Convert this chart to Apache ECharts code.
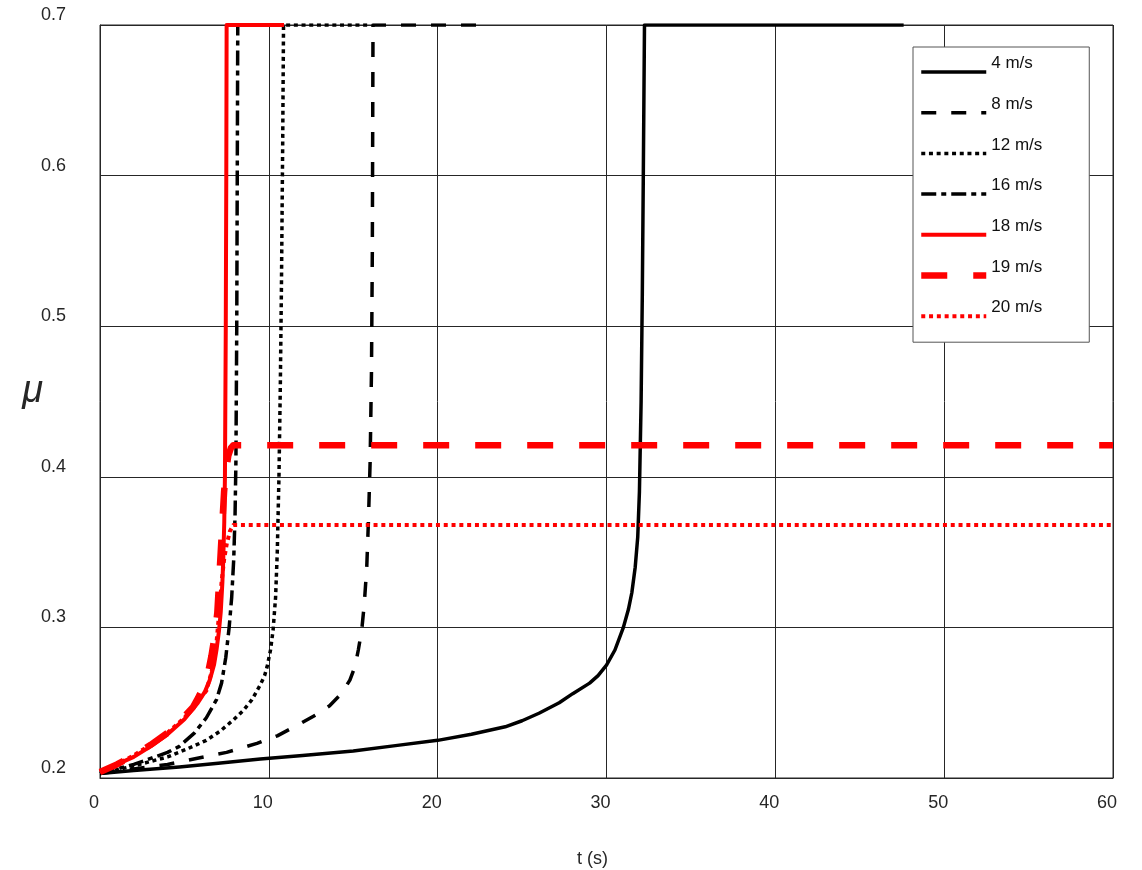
<!DOCTYPE html>
<html>
<head>
<meta charset="utf-8">
<script src="https://cdn.jsdelivr.net/npm/echarts@6/dist/echarts.min.js"></script>
<style>
  html, body { margin: 0; padding: 0; background: #ffffff; overflow: hidden; }
  #chart { width: 1142px; height: 870px; }
</style>
</head>
<body>
<div id="chart"></div>
<script>
// Friction coefficient mu over time for several sliding speeds
const speedLabels = ['4 m/s', '8 m/s', '12 m/s', '16 m/s', '18 m/s', '19 m/s', '20 m/s'];

const mu4 = [[0,0.203],[2,0.205],[4.7,0.2073],[7,0.2098],[9.5,0.2126],[12,0.215],[15,0.218],[17.5,0.2215],[20,0.225],[22,0.229],[24,0.234],[25,0.238],[26,0.243],[27.2,0.25],[28,0.256],[29,0.263],[29.5,0.268],[30,0.275],[30.5,0.285],[31,0.3],[31.3,0.312],[31.5,0.323],[31.7,0.34],[31.85,0.36],[31.95,0.39],[32.05,0.45],[32.12,0.52],[32.18,0.6],[32.25,0.7],[47.6,0.7]];
const mu8 = [[0,0.203],[2,0.206],[4,0.209],[5.7,0.213],[7.5,0.217],[9.3,0.223],[10.5,0.228],[11.85,0.236],[12.8,0.242],[13.6,0.248],[14.3,0.256],[14.8,0.265],[15.1,0.274],[15.3,0.285],[15.5,0.298],[15.65,0.315],[15.8,0.34],[15.9,0.371],[16.0,0.41],[16.08,0.47],[16.13,0.55],[16.17,0.7],[23.1,0.7]];
const mu12 = [[0,0.203],[2,0.208],[4,0.214],[5.1,0.219],[6.3,0.225],[7.1,0.231],[7.9,0.2385],[8.5,0.245],[9.0,0.252],[9.5,0.262],[9.75,0.268],[9.9,0.274],[10.1,0.285],[10.25,0.298],[10.4,0.32],[10.5,0.35],[10.6,0.4],[10.68,0.46],[10.75,0.53],[10.82,0.62],[10.87,0.7],[16,0.7]];
const mu16 = [[0,0.203],[1,0.206],[2,0.209],[3,0.213],[4,0.217],[4.7,0.221],[5.6,0.23],[6.3,0.24],[6.9,0.252],[7.2,0.263],[7.45,0.28],[7.65,0.3],[7.8,0.32],[7.92,0.345],[8.0,0.375],[8.05,0.41],[8.1,0.5],[8.13,0.6],[8.16,0.7],[10.9,0.7]];
const mu18 = [[0,0.204],[1,0.209],[2,0.214],[3,0.221],[4,0.229],[5,0.239],[5.8,0.25],[6.2,0.257],[6.5,0.265],[6.75,0.275],[6.9,0.285],[7.05,0.298],[7.15,0.31],[7.25,0.33],[7.3,0.345],[7.36,0.37],[7.4,0.4],[7.45,0.5],[7.48,0.6],[7.5,0.7],[10.9,0.7]];
const mu19 = [[0,0.204],[1,0.209],[2,0.215],[3,0.222],[4,0.23],[5,0.241],[5.5,0.247],[5.8,0.253],[6.1,0.26],[6.4,0.27],[6.6,0.281],[6.8,0.295],[6.95,0.31],[7.05,0.33],[7.15,0.35],[7.25,0.37],[7.35,0.39],[7.45,0.403],[7.6,0.414],[7.75,0.419],[7.9,0.421],[60,0.421]];
const mu20 = [[0,0.204],[1,0.209],[2,0.215],[3,0.222],[4,0.23],[5,0.24],[5.7,0.25],[6.3,0.258],[6.6,0.27],[6.9,0.29],[7.1,0.315],[7.2,0.33],[7.35,0.345],[7.5,0.355],[7.7,0.364],[7.9,0.368],[60,0.368]];

const xTicks = { min: 0, max: 60, step: 10 };
const yTicks = { min: 0.2, max: 0.7, step: 0.1 };

const INK = '#262626';
const FONT = '"Liberation Sans", Arial, Helvetica, sans-serif';

function curve(name, data, color, width, dash) {
  return {
    name: name,
    type: 'line',
    data: data,
    showSymbol: false,
    symbol: 'none',
    smooth: false,
    animation: false,
    lineStyle: { color: color, width: width, type: dash, cap: 'butt', join: 'round' },
    itemStyle: { color: color }
  };
}

const chart = echarts.init(document.getElementById('chart'), null, { renderer: 'canvas' });

chart.setOption({
  backgroundColor: '#ffffff',
  animation: false,
  grid: {
    left: 100, right: 29, top: 25, bottom: 92,
    outerBoundsMode: 'none',
    containLabel: false,
    show: true, backgroundColor: '#ffffff', borderColor: INK, borderWidth: 1
  },
  xAxis: {
    type: 'value',
    min: xTicks.min, max: xTicks.max, interval: xTicks.step,
    name: 't (s)',
    nameLocation: 'middle',
    nameGap: 72,
    nameMoveOverlap: false,
    nameTextStyle: { fontFamily: FONT, fontSize: 18, color: INK, padding: [0, 28, 0, 0] },
    axisLine: { show: true, lineStyle: { color: INK, width: 1 } },
    axisTick: { show: false },
    axisLabel: { fontFamily: FONT, fontSize: 18, color: INK, margin: 16, padding: [0, 12, 0, 0] },
    splitLine: { show: true, lineStyle: { color: INK, width: 1 } }
  },
  yAxis: {
    type: 'value',
    min: yTicks.min, max: yTicks.max, interval: yTicks.step,
    name: 'μ',
    nameLocation: 'middle',
    nameRotate: 0,
    nameGap: 57,
    nameMoveOverlap: false,
    nameTextStyle: { fontFamily: FONT, fontSize: 38, fontStyle: 'italic', color: INK, verticalAlign: 'bottom', lineHeight: 20 },
    axisLine: { show: true, lineStyle: { color: INK, width: 1 } },
    axisTick: { show: false },
    axisLabel: {
      fontFamily: FONT, fontSize: 18, color: INK, margin: 34,
      verticalAlign: 'bottom', lineHeight: 20,
      formatter: v => v.toFixed(1)
    },
    splitLine: { show: true, lineStyle: { color: INK, width: 1 } }
  },
  legend: {
    data: speedLabels,
    orient: 'vertical',
    left: 913,
    top: 47,
    padding: [8, 47, 9, 5],
    itemWidth: 65,
    itemHeight: 14,
    itemGap: 6.7,
    itemStyle: { opacity: 0 },
    lineStyle: { width: 'inherit' },
    backgroundColor: '#ffffff',
    borderColor: '#555555',
    borderWidth: 1,
    borderRadius: 0,
    formatter: name => name + '\n ',
    textStyle: { fontFamily: FONT, fontSize: 17, lineHeight: 17, color: '#111111' }
  },
  series: [
    curve(speedLabels[0], mu4, '#000000', 3.5, 'solid'),
    curve(speedLabels[1], mu8, '#000000', 3.5, [15, 15]),
    curve(speedLabels[2], mu12, '#000000', 3.5, [4, 3.7]),
    curve(speedLabels[3], mu16, '#000000', 3.5, [15, 5, 5, 5]),
    curve(speedLabels[4], mu18, '#ff0000', 4, 'solid'),
    curve(speedLabels[5], mu19, '#ff0000', 6.5, [26, 26]),
    curve(speedLabels[6], mu20, '#ff0000', 4, [4, 3.8])
  ]
});
</script>
</body>
</html>
